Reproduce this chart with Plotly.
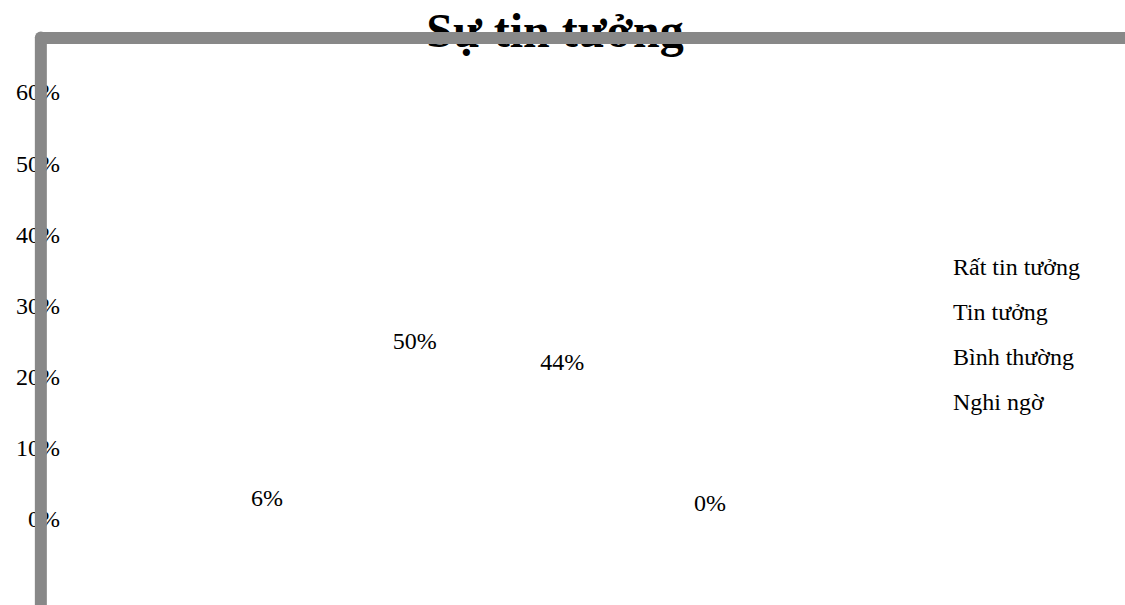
import plotly.graph_objects as go

W, H = 1125, 605

# ---- data ----
category = ["Sự tin tưởng"]
series_names = ["Rất tin tưởng", "Tin tưởng", "Bình thường", "Nghi ngờ"]
series_values = [0.06, 0.50, 0.44, 0.00]
y_tick_values = [0, 0.1, 0.2, 0.3, 0.4, 0.5, 0.6]
y_tick_labels = ["0%", "10%", "20%", "30%", "40%", "50%", "60%"]
title_text = "Sự tin tưởng"

FONT = "Liberation Serif, Times New Roman, serif"
GRAY = "#888888"
LABEL_SIZE = 24


def px_x(px):
    return px / W


def px_y(py):
    return 1 - py / H


# plot area in pixels
PL, PR, PT, PB = 61, 916, 40, 585

fig = go.Figure()
for i, (name, val) in enumerate(zip(series_names, series_values)):
    fig.add_trace(go.Bar(
        x=category, y=[val], name=name, legendgroup=f"g{i}",
        marker=dict(color="rgba(0,0,0,0)", line=dict(width=0)),
        texttemplate="%{y:.0%}",
        textposition="inside" if val > 0 else "outside",
        insidetextanchor="middle",
        textfont=dict(family=FONT, size=LABEL_SIZE, color="black"),
        insidetextfont=dict(family=FONT, size=LABEL_SIZE, color="black"),
        outsidetextfont=dict(family=FONT, size=LABEL_SIZE, color="black"),
        cliponaxis=False,
    ))

fig.update_layout(
    width=W, height=H,
    margin=dict(l=0, r=0, t=0, b=0),
    paper_bgcolor="white", plot_bgcolor="white",
    barmode="group", bargap=0.309, bargroupgap=0,
    font=dict(family=FONT, color="black"),
    title=dict(text=f"<b>{title_text}</b>", x=555 / W, xanchor="center",
               xref="container", y=1 - 13 / H, yanchor="top", yref="container",
               font=dict(family=FONT, size=48, color="black")),
    xaxis=dict(domain=[px_x(PL), px_x(PR)], range=[-0.5, 0.5],
               showticklabels=False, showgrid=False, zeroline=False,
               showline=False, ticks="", automargin=False),
    yaxis=dict(domain=[px_y(PB), px_y(PT)], range=[-0.0927, 0.673],
               tickvals=y_tick_values, ticktext=y_tick_labels,
               tickfont=dict(family=FONT, size=LABEL_SIZE, color="black"),
               showgrid=False, zeroline=False, showline=False, ticks="",
               automargin=False),
    legend=dict(x=px_x(913), xanchor="left", y=px_y(244), yanchor="top",
                font=dict(family=FONT, size=LABEL_SIZE, color="black"),
                traceorder="grouped", tracegroupgap=10.5,
                bgcolor="rgba(0,0,0,0)", borderwidth=0),
    showlegend=True,
)

# chart-area border (thick gray frame running off the page)
cx, cy, lw = 40.85, 37.5, 12
fig.add_shape(type="line", xref="paper", yref="paper",
              x0=px_x(cx), x1=px_x(cx), y0=px_y(cy), y1=px_y(H + 20),
              line=dict(color=GRAY, width=lw), layer="above")
fig.add_shape(type="circle", xref="paper", yref="paper",
              x0=px_x(cx - lw / 2), x1=px_x(cx + lw / 2),
              y0=px_y(cy + lw / 2), y1=px_y(cy - lw / 2),
              fillcolor=GRAY, line=dict(width=0), layer="above")
# top edge of the frame, drawn over the title as in the original
fig.add_annotation(xref="paper", yref="paper", x=px_x(cx), y=px_y(cy),
                   xanchor="left", yanchor="middle", text="",
                   showarrow=False, width=W, height=lw,
                   bgcolor=GRAY, borderpad=0, borderwidth=0)

fig.write_html("out.html")
